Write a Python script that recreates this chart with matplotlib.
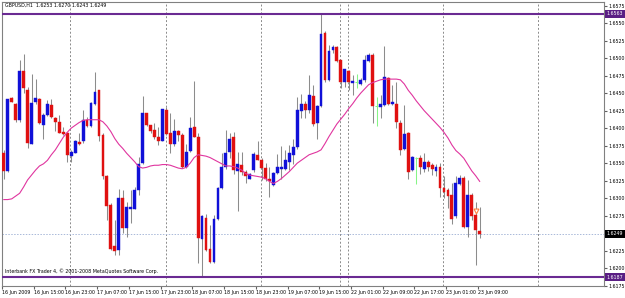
import matplotlib
matplotlib.use('Agg')
import matplotlib.pyplot as plt
import matplotlib.transforms as mtransforms
import numpy as np

# GBPUSD H1 candles, 16 Jun 07:00 .. 23 Jun 09:00
opens = [1.6364, 1.6339, 1.6443, 1.6435, 1.6412, 1.6482, 1.6454, 1.6378, 1.6438, 1.6442,
         1.6404, 1.6419, 1.6433, 1.6415, 1.6409, 1.6394, 1.6393, 1.6360, 1.6365, 1.6380,
         1.6381, 1.6412, 1.6403, 1.6435, 1.6454, 1.6390, 1.6332, 1.6290, 1.6232, 1.6226,
         1.6300, 1.6257, 1.6285, 1.6285, 1.6312, 1.6350, 1.6421, 1.6404, 1.6397, 1.6388,
         1.6382, 1.6426, 1.6393, 1.6378, 1.6396, 1.6390, 1.6345, 1.6368, 1.6401, 1.6388,
         1.6241, 1.6271, 1.6227, 1.6209, 1.6270, 1.6314, 1.6345, 1.6366, 1.6387, 1.6339,
         1.6348, 1.6337, 1.6328, 1.6340, 1.6362, 1.6355, 1.6343, 1.6328, 1.6319, 1.6336,
         1.6342, 1.6342, 1.6352, 1.6362, 1.6373, 1.6424, 1.6435, 1.6426, 1.6446, 1.6407,
         1.6431, 1.6536, 1.6469, 1.6511, 1.6516, 1.6497, 1.6466, 1.6481, 1.6465, 1.6466,
         1.6463, 1.6469, 1.6496, 1.6505, 1.6432, 1.6430, 1.6433, 1.6471, 1.6434, 1.6435,
         1.6407, 1.6370, 1.6393, 1.6340, 1.6358, 1.6357, 1.6342, 1.6352, 1.6347, 1.6339,
         1.6344, 1.6314, 1.6311, 1.6305, 1.6274, 1.6320, 1.6329, 1.6259, 1.6305, 1.6276,
         1.6253]
highs = [1.6369, 1.6442, 1.6444, 1.6436, 1.6498, 1.6506, 1.6459, 1.6477, 1.6470, 1.6443,
         1.6421, 1.6440, 1.6442, 1.6416, 1.6419, 1.6402, 1.6394, 1.6369, 1.6383, 1.6393,
         1.6426, 1.6416, 1.6438, 1.6480, 1.6455, 1.6393, 1.6333, 1.6293, 1.6269, 1.6313,
         1.6312, 1.6295, 1.6311, 1.6316, 1.6359, 1.6446, 1.6422, 1.6405, 1.6407, 1.6402,
         1.6428, 1.6430, 1.6421, 1.6413, 1.6397, 1.6393, 1.6378, 1.6416, 1.6467, 1.6393,
         1.6276, 1.6278, 1.6262, 1.6276, 1.6316, 1.6365, 1.6397, 1.6393, 1.6395, 1.6366,
         1.6366, 1.6340, 1.6336, 1.6366, 1.6382, 1.6357, 1.6350, 1.6345, 1.6338, 1.6363,
         1.6375, 1.6369, 1.6376, 1.6385, 1.6445, 1.6449, 1.6439, 1.6476, 1.6462, 1.6433,
         1.6563, 1.6538, 1.6519, 1.6519, 1.6517, 1.6498, 1.6485, 1.6483, 1.6476, 1.6478,
         1.6471, 1.6505, 1.6507, 1.6507, 1.6445, 1.6447, 1.6517, 1.6473, 1.6462, 1.6466,
         1.6412, 1.6433, 1.6394, 1.6360, 1.6359, 1.6362, 1.6364, 1.6355, 1.6350, 1.6349,
         1.6350, 1.6331, 1.6314, 1.6321, 1.6331, 1.6333, 1.6331, 1.6326, 1.6307, 1.6295,
         1.6288]
lows = [1.6328, 1.6338, 1.6437, 1.6409, 1.6409, 1.6450, 1.6371, 1.6377, 1.6435, 1.6406,
        1.6385, 1.6417, 1.6415, 1.6396, 1.6393, 1.6390, 1.6352, 1.6352, 1.6364, 1.6376,
        1.6379, 1.6402, 1.6402, 1.6433, 1.6381, 1.6327, 1.6269, 1.6226, 1.6219, 1.6219,
        1.6250, 1.6244, 1.6265, 1.6284, 1.6305, 1.6349, 1.6403, 1.6393, 1.6385, 1.6376,
        1.6381, 1.6390, 1.6364, 1.6375, 1.6381, 1.6343, 1.6343, 1.6366, 1.6387, 1.6207,
        1.6187, 1.6225, 1.6208, 1.6208, 1.6269, 1.6313, 1.6341, 1.6357, 1.6335, 1.6281,
        1.6333, 1.6322, 1.6327, 1.6338, 1.6355, 1.6326, 1.6324, 1.6302, 1.6318, 1.6335,
        1.6327, 1.6340, 1.6340, 1.6349, 1.6370, 1.6414, 1.6414, 1.6421, 1.6403, 1.6384,
        1.6430, 1.6466, 1.6468, 1.6507, 1.6495, 1.6457, 1.6459, 1.6454, 1.6447, 1.6457,
        1.6462, 1.6466, 1.6495, 1.6407, 1.6403, 1.6414, 1.6432, 1.6433, 1.6433, 1.6400,
        1.6362, 1.6369, 1.6327, 1.6339, 1.6320, 1.6335, 1.6338, 1.6339, 1.6333, 1.6331,
        1.6302, 1.6300, 1.6286, 1.6263, 1.6271, 1.6319, 1.6258, 1.6245, 1.6269, 1.6205,
        1.6243]
closes = [1.6339, 1.6441, 1.6438, 1.6412, 1.6482, 1.6457, 1.6379, 1.6436, 1.6443, 1.6407,
          1.6419, 1.6434, 1.6416, 1.6409, 1.6393, 1.6391, 1.6361, 1.6366, 1.6381, 1.6377,
          1.6412, 1.6403, 1.6436, 1.6452, 1.6389, 1.6331, 1.6289, 1.6228, 1.6225, 1.6300,
          1.6257, 1.6287, 1.6288, 1.6312, 1.6349, 1.6422, 1.6404, 1.6396, 1.6388, 1.6382,
          1.6427, 1.6392, 1.6378, 1.6396, 1.6390, 1.6344, 1.6366, 1.6400, 1.6388, 1.6243,
          1.6274, 1.6226, 1.6209, 1.6270, 1.6314, 1.6345, 1.6365, 1.6385, 1.6340, 1.6349,
          1.6338, 1.6331, 1.6334, 1.6363, 1.6355, 1.6343, 1.6328, 1.6324, 1.6336, 1.6344,
          1.6344, 1.6355, 1.6364, 1.6373, 1.6426, 1.6434, 1.6426, 1.6447, 1.6406, 1.6431,
          1.6535, 1.6469, 1.6510, 1.6516, 1.6496, 1.6466, 1.6484, 1.6466, 1.6467, 1.6466,
          1.6469, 1.6497, 1.6505, 1.6431, 1.6432, 1.6435, 1.6473, 1.6434, 1.6438, 1.6409,
          1.6369, 1.6392, 1.6338, 1.6359, 1.6358, 1.6344, 1.6352, 1.6345, 1.6341, 1.6345,
          1.6314, 1.6309, 1.6303, 1.6270, 1.6321, 1.6329, 1.6259, 1.6305, 1.6275, 1.6254,
          1.6249]
# moving average line as drawn on the chart
ma = [1.6298, 1.6298, 1.6299, 1.6303, 1.6307, 1.6316, 1.6326, 1.6333, 1.6340, 1.6346,
      1.6349, 1.6354, 1.6362, 1.6369, 1.6378, 1.6387, 1.6394, 1.6400, 1.6404, 1.6408,
      1.6411, 1.6412, 1.6412, 1.6412, 1.6412, 1.6409, 1.6403, 1.6395, 1.6385, 1.6377,
      1.6371, 1.6364, 1.6358, 1.6352, 1.6345, 1.6343, 1.6344, 1.6346, 1.6347, 1.6347,
      1.6348, 1.6348, 1.6347, 1.6345, 1.6343, 1.6342, 1.6344, 1.6350, 1.6358, 1.6362,
      1.6361, 1.6360, 1.6358, 1.6355, 1.6352, 1.6349, 1.6346, 1.6346, 1.6345, 1.6343,
      1.6340, 1.6335, 1.6333, 1.6332, 1.6331, 1.6330, 1.6328, 1.6324, 1.6321, 1.6324,
      1.6328, 1.6333, 1.6338, 1.6344, 1.6350, 1.6354, 1.6358, 1.6362, 1.6364, 1.6366,
      1.6369, 1.6378, 1.6388, 1.6397, 1.6406, 1.6413, 1.6420, 1.6428, 1.6435, 1.6443,
      1.6450, 1.6456, 1.6462, 1.6465, 1.6467, 1.6469, 1.6470, 1.6470, 1.6470, 1.6470,
      1.6469, 1.6463, 1.6454, 1.6447, 1.6439, 1.6432, 1.6425, 1.6419, 1.6413, 1.6407,
      1.6401, 1.6394, 1.6386, 1.6376, 1.6368, 1.6363, 1.6357, 1.6348, 1.6339, 1.6332,
      1.6324]

time_labels = ['16 Jun 2009', '16 Jun 15:00', '16 Jun 23:00', '17 Jun 07:00', '17 Jun 15:00',
               '17 Jun 23:00', '18 Jun 07:00', '18 Jun 15:00', '18 Jun 23:00', '19 Jun 07:00',
               '19 Jun 15:00', '22 Jun 01:00', '22 Jun 09:00', '22 Jun 17:00', '23 Jun 01:00',
               '23 Jun 09:00']
label_step = 8
sep_bars = [17, 41, 65, 85, 87, 111, 135]   # period separators
level_hi = 1.6563
level_lo = 1.6187
bid = 1.6249
arrow_bar = 119
arrow_price = 1.6282
header = 'GBPUSD,H1  1.6253 1.6270 1.6243 1.6249'
footer = 'Interbank FX Trader 4, \u00a9 2001-2008 MetaQuotes Software Corp.'

o = np.array(opens); h = np.array(highs); l = np.array(lows); c = np.array(closes)
x = np.arange(len(c))
up = c > o
dn = c < o
dj = ~(up | dn)

FS = 3.4
fig = plt.figure(figsize=(6.25, 2.98), dpi=100)
ax = fig.add_axes([2/625, 1 - 286/298, 602/625, 284/298])

# separators and horizontal levels
for b in sep_bars:
    ax.axvline(b - 0.2, color='#8a8a8a', lw=0.7, ls=(0, (2, 2)), zorder=1)
ax.axhline(bid, color='#a9b9d9', lw=0.7, ls=(0, (1.5, 1.5)), zorder=1)
ax.axhline(level_hi, color='#6a2a92', lw=1.5, zorder=4)
ax.axhline(level_lo, color='#6a2a92', lw=1.5, zorder=4)

# candles
ax.vlines(x[~dj], l[~dj], h[~dj], color='#8c8c8c', lw=0.75, zorder=2)
ax.vlines(x[dj], l[dj], h[dj], color='#86f586', lw=0.75, zorder=2)
ax.hlines(o[dj], x[dj] - 0.4, x[dj] + 0.4, color='#86f586', lw=0.75, zorder=2)
ax.bar(x[up], (c - o)[up], bottom=o[up], width=0.72, color='#1010d8',
       edgecolor='#1010d8', linewidth=0.3, zorder=3)
ax.bar(x[dn], (o - c)[dn], bottom=c[dn], width=0.72, color='#e01010',
       edgecolor='#e01010', linewidth=0.3, zorder=3)

ax.plot(x, ma, color='#e0359f', lw=0.8, zorder=4)
ax.plot(arrow_bar, arrow_price, marker='v', ms=3.5, mfc='white', mec='#ff8040',
        mew=0.8, ls='none', zorder=5)

ax.set_xlim(-0.02, 151.35)
ax.set_ylim(1.61746, 1.65801)

# right price scale; the bid box covers the 1.6250 label
ax.yaxis.tick_right()
yt = np.arange(1.6175, 1.65751, 0.0025)
ax.set_yticks(yt)
ax.set_yticklabels(['' if abs(v - bid) < 0.0005 else f'{v:.4f}' for v in yt])
ax.tick_params(axis='y', labelsize=FS, length=2, pad=1, color='#606060')

trans = mtransforms.blended_transform_factory(ax.transAxes, ax.transData)
for val, col in [(level_hi, '#5a1e84'), (bid, '#000000'), (level_lo, '#5a1e84')]:
    ax.text(1.004, val, f'{val:.4f}', transform=trans, ha='left', va='center',
            fontsize=FS, color='white', zorder=6,
            bbox=dict(boxstyle='square,pad=0.35', fc=col, ec='none'))

# time scale
lb = np.arange(len(time_labels)) * label_step
ax.set_xticks(lb - 0.45)
ax.set_xticklabels(time_labels, ha='left')
ax.tick_params(axis='x', labelsize=FS, length=2, pad=1.2, color='#606060')

for s in ax.spines.values():
    s.set_color('#808080')
    s.set_linewidth(0.8)

fig.text(5/625, 1 - 5/298, header, fontsize=FS, va='center', ha='left')
ax.text(0.005, level_lo + 0.0009, footer, transform=trans, fontsize=FS,
        va='center', ha='left')

fig.savefig('out.png', dpi=100, facecolor='white')
